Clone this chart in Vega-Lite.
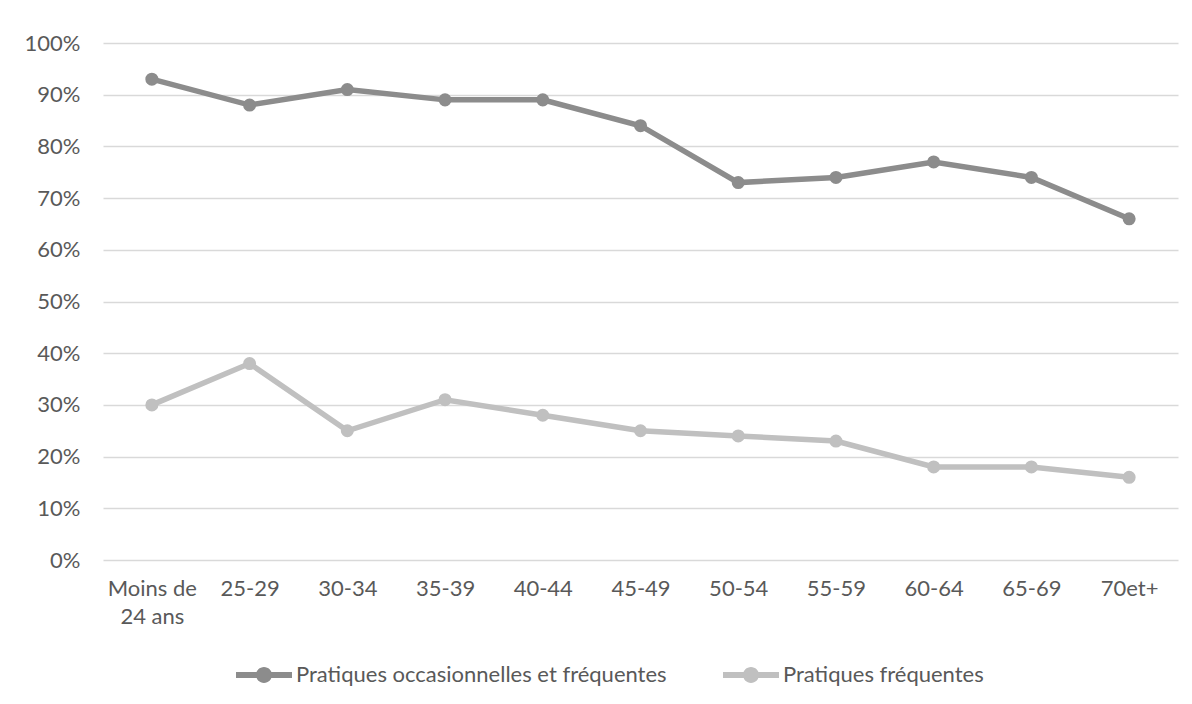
{
  "$schema": "https://vega.github.io/schema/vega-lite/v6.json",
  "width": 1075,
  "height": 517,
  "autosize": {"type": "none"},
  "padding": {"left": 103, "top": 43, "right": 14, "bottom": 144},
  "background": "white",
  "config": {
    "view": {"stroke": null},
    "font": "Lato",
    "axis": {
      "labelFont": "Lato",
      "labelFontSize": 22,
      "labelColor": "#595959",
      "domain": false,
      "ticks": false,
      "title": null
    }
  },
  "data": {
    "values": [
      {"age": "Moins de 24 ans", "serie": "Pratiques occasionnelles et fréquentes", "pct": 0.93},
      {"age": "25-29", "serie": "Pratiques occasionnelles et fréquentes", "pct": 0.88},
      {"age": "30-34", "serie": "Pratiques occasionnelles et fréquentes", "pct": 0.91},
      {"age": "35-39", "serie": "Pratiques occasionnelles et fréquentes", "pct": 0.89},
      {"age": "40-44", "serie": "Pratiques occasionnelles et fréquentes", "pct": 0.89},
      {"age": "45-49", "serie": "Pratiques occasionnelles et fréquentes", "pct": 0.84},
      {"age": "50-54", "serie": "Pratiques occasionnelles et fréquentes", "pct": 0.73},
      {"age": "55-59", "serie": "Pratiques occasionnelles et fréquentes", "pct": 0.74},
      {"age": "60-64", "serie": "Pratiques occasionnelles et fréquentes", "pct": 0.77},
      {"age": "65-69", "serie": "Pratiques occasionnelles et fréquentes", "pct": 0.74},
      {"age": "70et+", "serie": "Pratiques occasionnelles et fréquentes", "pct": 0.66},
      {"age": "Moins de 24 ans", "serie": "Pratiques fréquentes", "pct": 0.30},
      {"age": "25-29", "serie": "Pratiques fréquentes", "pct": 0.38},
      {"age": "30-34", "serie": "Pratiques fréquentes", "pct": 0.25},
      {"age": "35-39", "serie": "Pratiques fréquentes", "pct": 0.31},
      {"age": "40-44", "serie": "Pratiques fréquentes", "pct": 0.28},
      {"age": "45-49", "serie": "Pratiques fréquentes", "pct": 0.25},
      {"age": "50-54", "serie": "Pratiques fréquentes", "pct": 0.24},
      {"age": "55-59", "serie": "Pratiques fréquentes", "pct": 0.23},
      {"age": "60-64", "serie": "Pratiques fréquentes", "pct": 0.18},
      {"age": "65-69", "serie": "Pratiques fréquentes", "pct": 0.18},
      {"age": "70et+", "serie": "Pratiques fréquentes", "pct": 0.16}
    ]
  },
  "encoding": {
    "x": {
      "field": "age",
      "type": "nominal",
      "sort": null,
      "axis": {
        "grid": false,
        "labelAngle": 0,
        "labelPadding": 18,
        "labelLineHeight": 28,
        "labelExpr": "datum.label == 'Moins de 24 ans' ? ['Moins de', '24 ans'] : datum.label"
      }
    },
    "y": {
      "field": "pct",
      "type": "quantitative",
      "scale": {"domain": [0, 1], "nice": false, "zero": true},
      "axis": {
        "values": [0, 0.1, 0.2, 0.3, 0.4, 0.5, 0.6, 0.7, 0.8, 0.9, 1],
        "format": ".0%",
        "grid": true,
        "gridColor": "#d9d9d9",
        "gridWidth": 1.5,
        "labelPadding": 23
      }
    },
    "color": {
      "field": "serie",
      "type": "nominal",
      "sort": null,
      "scale": {
        "domain": ["Pratiques occasionnelles et fréquentes", "Pratiques fréquentes"],
        "range": ["#8c8c8c", "#c0c0c0"]
      },
      "legend": {
        "title": null,
        "orient": "none",
        "legendX": 147,
        "legendY": 618,
        "direction": "horizontal",
        "padding": 0,
        "symbolType": "M-2,-0.21H2V0.21H-2Z M0.57,0A0.57,0.57,0,1,1,-0.57,0A0.57,0.57,0,1,1,0.57,0Z",
        "symbolSize": 784,
        "symbolStrokeWidth": 0,
        "symbolOpacity": 1,
        "labelOffset": 18,
        "columnPadding": 56,
        "labelFont": "Lato",
        "labelFontSize": 22,
        "labelColor": "#595959",
        "labelLimit": 0
      }
    }
  },
  "layer": [
    {"mark": {"type": "line", "strokeWidth": 5.5}},
    {"mark": {"type": "point", "filled": true, "size": 170, "opacity": 1}}
  ]
}
